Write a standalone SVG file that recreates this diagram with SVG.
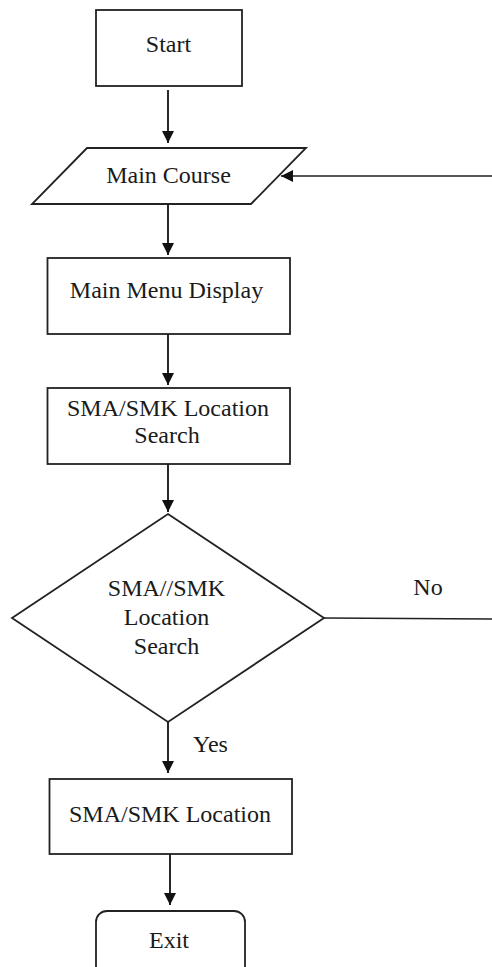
<svg xmlns="http://www.w3.org/2000/svg" width="492" height="967" viewBox="0 0 492 967">
<defs>
<marker id="ah" markerUnits="userSpaceOnUse" markerWidth="12" markerHeight="14" refX="12" refY="6" orient="auto">
<path d="M0,0 L12,6 L0,12 Z" fill="#111"/>
</marker>
<style>
.shape{fill:#fff;stroke:#222;stroke-width:1.8}
.conn{fill:none;stroke:#111;stroke-width:1.8}
.thin{fill:none;stroke:#222;stroke-width:1.3}
.t{font-family:'Liberation Serif','Times New Roman',serif;font-size:24px;fill:#1a1a1a;text-anchor:middle}
</style>
</defs>
<rect width="492" height="967" fill="#fff"/>
<g id="connectors">
<line class="conn" x1="168" y1="90" x2="168" y2="143" marker-end="url(#ah)"/>
<line class="conn" x1="168" y1="203" x2="168" y2="255" marker-end="url(#ah)"/>
<line class="conn" x1="168" y1="333" x2="168" y2="385" marker-end="url(#ah)"/>
<line class="conn" x1="168" y1="464" x2="168" y2="512" marker-end="url(#ah)"/>
<line class="conn" x1="168" y1="722" x2="168" y2="773" marker-end="url(#ah)"/>
<line class="conn" x1="170" y1="854" x2="170" y2="905" marker-end="url(#ah)"/>
<path class="thin" d="M324,618 L496,619 L496,176 L281,176" marker-end="url(#ah)"/>
<text class="t" x="428" y="595">No</text>
<text class="t" x="210.5" y="752">Yes</text>
</g>
<g id="start">
<rect class="shape" x="96" y="10" width="146" height="76"/>
<text class="t" x="168.5" y="52">Start</text>
</g>
<g id="main-course">
<polygon class="shape" points="87,148 306,148 251,204 32,204"/>
<text class="t" x="168.5" y="183">Main Course</text>
</g>
<g id="main-menu">
<rect class="shape" x="47.5" y="258" width="242.5" height="76"/>
<text class="t" x="166.5" y="298">Main Menu Display</text>
</g>
<g id="search">
<rect class="shape" x="47.5" y="388" width="242.5" height="76"/>
<text class="t" x="168" y="416">SMA/SMK Location</text>
<text class="t" x="167" y="443">Search</text>
</g>
<g id="decision">
<polygon class="shape" points="168,514 324,618 168,722 12,618"/>
<text class="t" x="166.5" y="596">SMA//SMK</text>
<text class="t" x="166.5" y="625">Location</text>
<text class="t" x="166.5" y="654">Search</text>
</g>
<g id="location">
<rect class="shape" x="49.5" y="779" width="242.5" height="75"/>
<text class="t" x="170" y="822">SMA/SMK Location</text>
</g>
<g id="exit">
<rect class="shape" x="96" y="911" width="149" height="70" rx="11" ry="11"/>
<text class="t" x="169" y="948">Exit</text>
</g>
</svg>
